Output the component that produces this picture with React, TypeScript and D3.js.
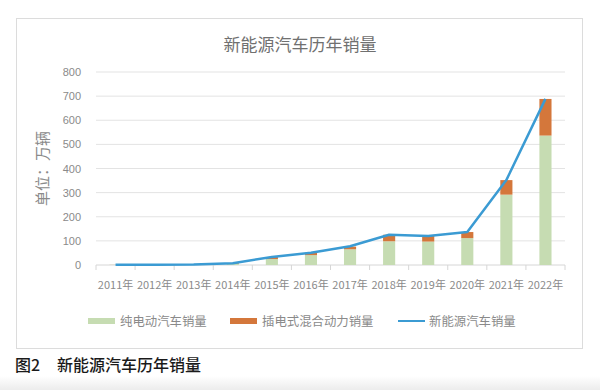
import * as d3 from "d3";

const years = ["2011年", "2012年", "2013年", "2014年", "2015年", "2016年", "2017年", "2018年", "2019年", "2020年", "2021年", "2022年"];
const bevSales = [0.5, 1, 1.5, 4.5, 24.7, 40.9, 65.2, 98.4, 97.2, 111.5, 291.6, 536.5];
const phevSales = [0.3, 0.3, 0.3, 3, 8.4, 9.8, 11.1, 27.1, 23.2, 25.1, 60.3, 151.8];
const totalSales = [0.8, 1.3, 1.8, 7.5, 33.1, 50.7, 77.7, 125.6, 120.6, 136.7, 352.1, 688.7];
const yTicks = [0, 100, 200, 300, 400, 500, 600, 700, 800];

const W = 600;
const H = 390;
const font = "'Noto Sans CJK SC', 'Noto Sans', sans-serif";
const numFont = "'Liberation Sans', 'Noto Sans', sans-serif";
const GREEN = "#c6dcb2";
const ORANGE = "#d4773b";
const BLUE = "#3b9bd3";
const GRAY = "#8a8a8a";

export default function App() {
  const margin = { left: 96, right: 35, top: 72, bottom: 125 };
  const x = d3.scaleBand().domain(years).range([margin.left, W - margin.right]).paddingInner(0.69).paddingOuter(0.345);
  const y = d3.scaleLinear().domain([0, 800]).range([H - margin.bottom, margin.top]);

  const line = d3
    .line<number>()
    .x((_, i) => x(years[i])! + x.bandwidth() / 2)
    .y((d) => y(d));

  const step = x.step();
  const x0 = margin.left;

  return (
    <svg width={W} height={H} style={{ position: "absolute", left: 0, top: 0, background: "#fff" }}>
      <defs>
        <linearGradient id="fade" x1="0" x2="0" y1="0" y2="1">
          <stop offset="0" stopColor="#ffffff" />
          <stop offset="1" stopColor="#ececec" />
        </linearGradient>
      </defs>
      <rect x={0} y={376} width={W} height={14} fill="url(#fade)" />
      <rect x={16.5} y={18.5} width={566} height={330} fill="#fff" stroke="#dcdcdc" strokeWidth={1} />
      <text x={300} y={51} textAnchor="middle" fontFamily={font} fontSize={17} fill="#707070">
        新能源汽车历年销量
      </text>

      {yTicks.map((t) => (
        <g key={t}>
          <line x1={x0} x2={W - margin.right} y1={y(t)} y2={y(t)} stroke={t === 0 ? "#d6d6d6" : "#e3e3e3"} strokeWidth={1} />
          <text x={81} y={y(t) + 4} textAnchor="end" fontFamily={numFont} fontSize={11} fill={GRAY}>
            {t}
          </text>
        </g>
      ))}

      {d3.range(years.length + 1).map((i) => (
        <line key={i} x1={x0 + i * step} x2={x0 + i * step} y1={y(0)} y2={y(0) + 5} stroke="#d6d6d6" />
      ))}

      {years.map((yr, i) => (
        <g key={yr}>
          <rect x={x(yr)} y={y(bevSales[i])} width={x.bandwidth()} height={y(0) - y(bevSales[i])} fill={GREEN} />
          <rect
            x={x(yr)}
            y={y(bevSales[i] + phevSales[i])}
            width={x.bandwidth()}
            height={y(bevSales[i]) - y(bevSales[i] + phevSales[i])}
            fill={ORANGE}
          />
          <text x={x(yr)! + x.bandwidth() / 2} y={289} textAnchor="middle" fontFamily={font} fontSize={11} fill={GRAY}>
            {yr}
          </text>
        </g>
      ))}

      <path d={line(totalSales) ?? ""} fill="none" stroke={BLUE} strokeWidth={2.5} strokeLinejoin="round" />

      <text
        transform={`translate(48,${(y(0) + y(800)) / 2}) rotate(-90)`}
        textAnchor="middle"
        fontFamily={font}
        fontSize={15}
        fill={GRAY}
      >
        单位：万辆
      </text>

      <g fontFamily={font} fontSize={12.4} fill={GRAY}>
        <rect x={88} y={318} width={27} height={6} fill={GREEN} />
        <text x={120} y={325.5}>纯电动汽车销量</text>
        <rect x={230} y={318} width={27} height={6} fill={ORANGE} />
        <text x={262} y={325.5}>插电式混合动力销量</text>
        <line x1={398} x2={425} y1={321} y2={321} stroke={BLUE} strokeWidth={2} />
        <text x={429} y={325.5}>新能源汽车销量</text>
      </g>

      <text x={15} y={371} fontFamily={font} fontSize={16} fontWeight={500} fill="#1a1a1a">
        图2
      </text>
      <text x={57} y={371} fontFamily={font} fontSize={16} fontWeight={500} fill="#1a1a1a">
        新能源汽车历年销量
      </text>
    </svg>
  );
}
